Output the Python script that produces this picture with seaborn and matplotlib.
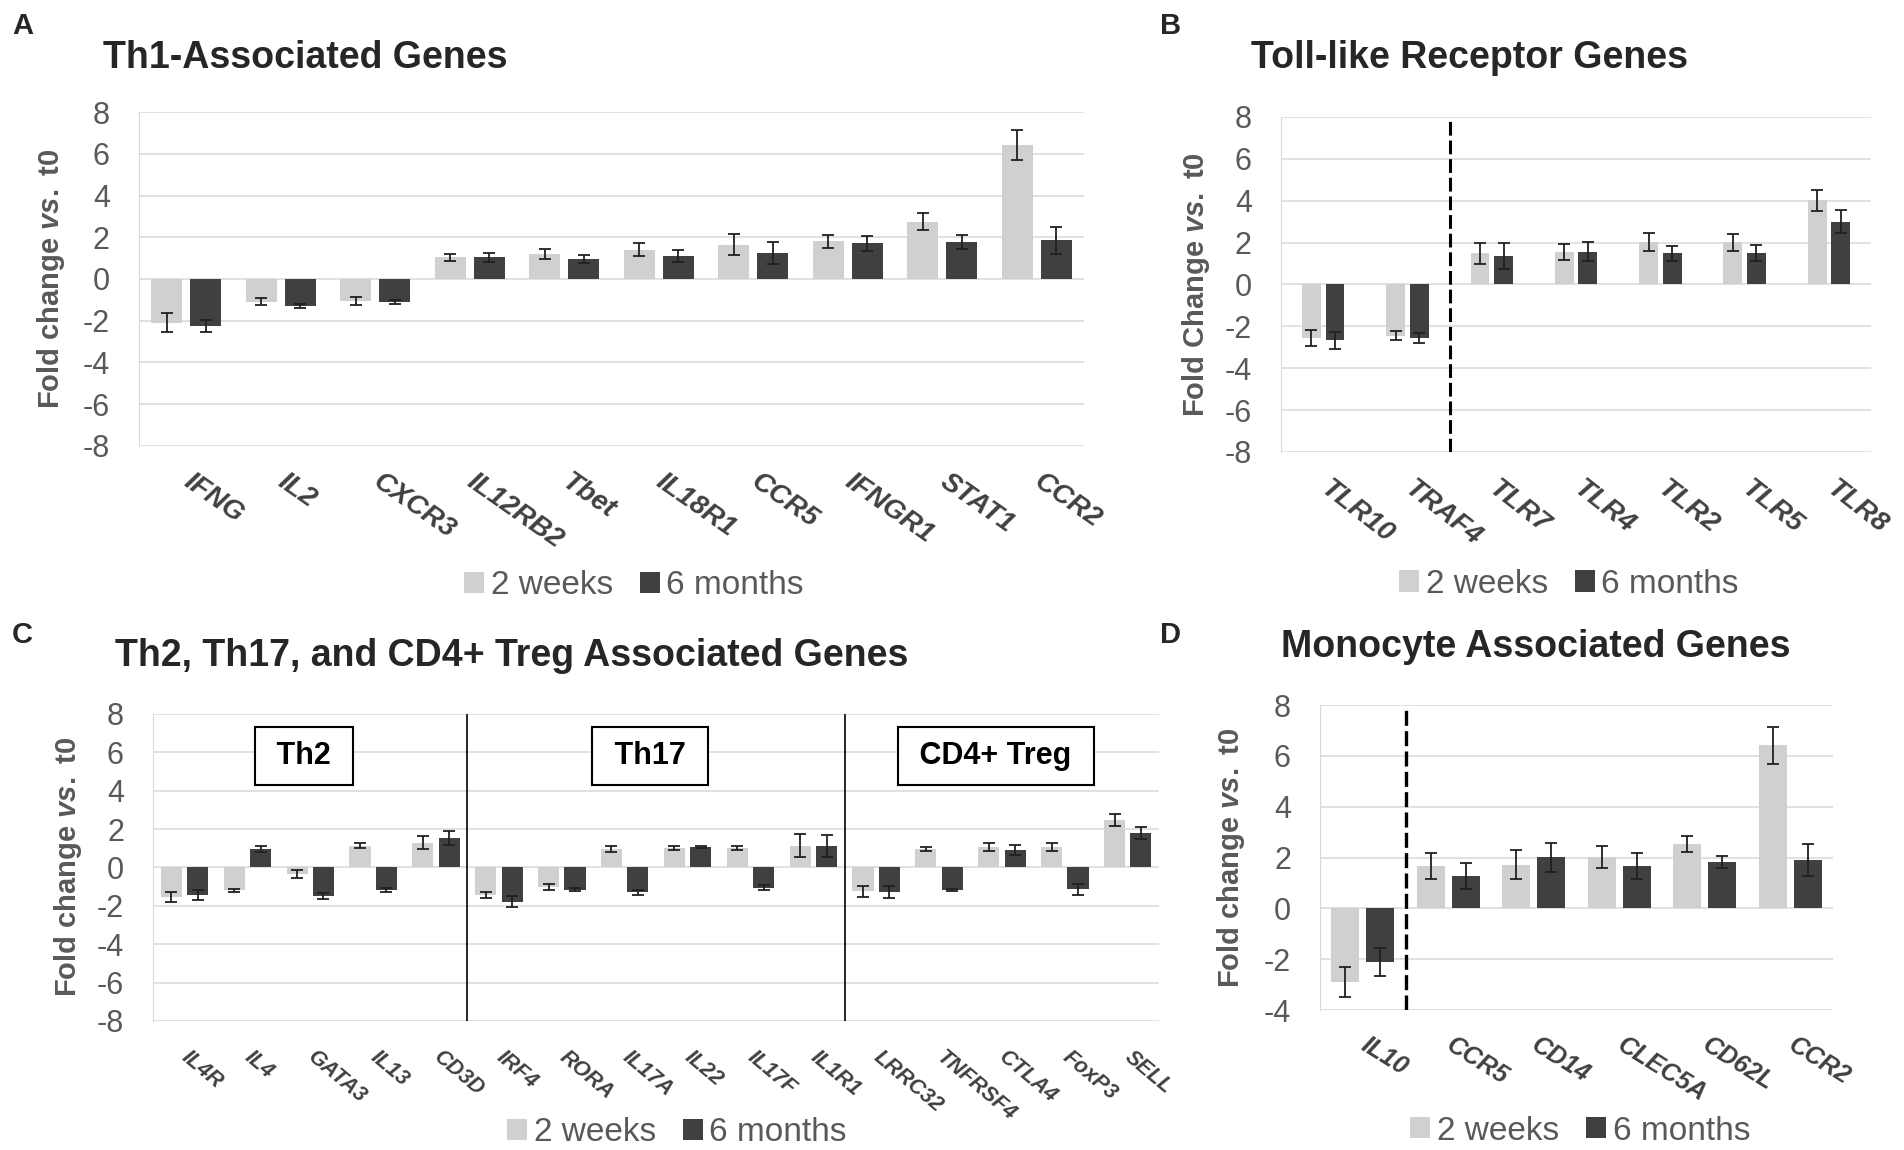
import matplotlib
matplotlib.use("Agg")
import numpy as np
import pandas as pd
import matplotlib.pyplot as plt
import seaborn as sns

# ---- data ----
# A: Th1-associated genes
th1_genes = ["IFNG", "IL2", "CXCR3", "IL12RB2", "Tbet", "IL18R1", "CCR5", "IFNGR1", "STAT1", "CCR2"]
th1_2w = [-2.10, -1.10, -1.04, 1.03, 1.21, 1.41, 1.65, 1.81, 2.75, 6.43]
th1_6m = [-2.25, -1.28, -1.12, 1.03, 0.95, 1.10, 1.26, 1.72, 1.77, 1.85]
th1_2w_err = [0.45, 0.17, 0.20, 0.16, 0.23, 0.30, 0.50, 0.32, 0.40, 0.73]
th1_6m_err = [0.27, 0.10, 0.10, 0.20, 0.20, 0.27, 0.52, 0.36, 0.35, 0.65]

# B: Toll-like receptor genes
tlr_genes = ["TLR10", "TRAF4", "TLR7", "TLR4", "TLR2", "TLR5", "TLR8"]
tlr_2w = [-2.56, -2.44, 1.50, 1.56, 2.01, 2.01, 4.03]
tlr_6m = [-2.66, -2.56, 1.36, 1.56, 1.50, 1.50, 3.00]
tlr_2w_err = [0.37, 0.23, 0.50, 0.37, 0.43, 0.40, 0.50]
tlr_6m_err = [0.40, 0.23, 0.60, 0.46, 0.36, 0.40, 0.55]
tlr_down = 2  # genes left of the dashed line

# C: Th2, Th17, CD4+ Treg
th2_genes = ["IL4R", "IL4", "GATA3", "IL13", "CD3D"]
th17_genes = ["IRF4", "RORA", "IL17A", "IL22", "IL17F", "IL1R1"]
treg_genes = ["LRRC32", "TNFRSF4", "CTLA4", "FoxP3", "SELL"]
group_names = ["Th2", "Th17", "CD4+ Treg"]
c_2w = [-1.53, -1.20, -0.33, 1.14, 1.29,
        -1.43, -1.02, 0.96, 1.01, 1.01, 1.14,
        -1.25, 0.96, 1.07, 1.07, 2.48]
c_6m = [-1.43, 0.96, -1.47, -1.16, 1.53,
        -1.78, -1.15, -1.29, 1.07, -1.05, 1.14,
        -1.29, -1.16, 0.92, -1.14, 1.80]
c_2w_err = [0.27, 0.10, 0.22, 0.11, 0.34,
            0.17, 0.14, 0.15, 0.11, 0.11, 0.60,
            0.30, 0.10, 0.22, 0.20, 0.31]
c_6m_err = [0.25, 0.15, 0.15, 0.10, 0.35,
            0.30, 0.10, 0.13, 0.05, 0.12, 0.57,
            0.30, 0.05, 0.25, 0.28, 0.30]

# D: monocyte associated genes
mono_genes = ["IL10", "CCR5", "CD14", "CLEC5A", "CD62L", "CCR2"]
mono_2w = [-2.90, 1.66, 1.71, 2.01, 2.54, 6.41]
mono_6m = [-2.10, 1.27, 2.01, 1.66, 1.83, 1.90]
mono_2w_err = [0.59, 0.52, 0.57, 0.43, 0.31, 0.72]
mono_6m_err = [0.55, 0.50, 0.57, 0.50, 0.24, 0.62]
mono_down = 1

timepoints = ["2 weeks", "6 months"]
colors = ["#D0D0D0", "#404040"]

sns.set_style("white")
plt.rcParams["font.family"] = ["Liberation Sans", "DejaVu Sans"]
plt.rcParams["axes.unicode_minus"] = False
plt.rcParams["mathtext.fontset"] = "custom"
plt.rcParams["mathtext.it"] = "Liberation Sans:italic:bold"
plt.rcParams["mathtext.rm"] = "Liberation Sans:bold"

GRAY = "#595959"

fig = plt.figure(figsize=(19.04, 11.5), dpi=100)


def panel(rect, genes, v2w, v6m, e2w, e6m, ylim, ylabel, width, rot, xfs, ylab_x):
    ax = fig.add_axes(rect)
    df = pd.DataFrame({
        "gene": list(genes) * 2,
        "time": [timepoints[0]] * len(genes) + [timepoints[1]] * len(genes),
        "fc": list(v2w) + list(v6m),
    })
    sns.barplot(data=df, x="gene", y="fc", hue="time", order=genes, hue_order=timepoints,
                palette=colors, saturation=1, width=width, gap=0.2, errorbar=None,
                linewidth=0, ax=ax)
    for cont, vals, errs in zip(ax.containers, [v2w, v6m], [e2w, e6m]):
        xs = [b.get_x() + b.get_width() / 2 for b in cont]
        ax.errorbar(xs, vals, yerr=errs, fmt="none", ecolor="#202020",
                    elinewidth=1.3, capsize=4.5, capthick=1.3, zorder=4)
    ax.set_xlim(-0.5, len(genes) - 0.5)
    ax.set_ylim(*ylim)
    ax.set_yticks(np.arange(ylim[0], ylim[1] + 1, 2))
    ax.set_axisbelow(True)
    ax.grid(axis="y", color="#D9D9D9", lw=1.1)
    ax.grid(axis="x", visible=False)
    for s in ["top", "right", "bottom"]:
        ax.spines[s].set_visible(False)
    ax.spines["left"].set_color("#D9D9D9")
    ax.tick_params(axis="y", length=0, pad=21, labelsize=22, labelcolor=GRAY)
    ax.tick_params(axis="x", length=0, pad=24, labelsize=xfs, labelcolor="#404040")
    plt.setp(ax.get_xticklabels(), rotation=rot, ha="left", va="center",
             rotation_mode="anchor", style="italic", fontweight="bold")
    ax.set_xlabel("")
    ax.set_ylabel(ylabel, fontsize=21, fontweight="bold", color=GRAY)
    ax.yaxis.set_label_coords(ylab_x, 0.5)
    return ax


axA = panel([0.0730, 0.6122, 0.4963, 0.2904], th1_genes, th1_2w, th1_6m, th1_2w_err, th1_6m_err,
            (-8, 8), r"Fold change $\mathit{vs.}$ t0", 0.82, -35, 20, -0.076)
axB = panel([0.6728, 0.6070, 0.3099, 0.2913], tlr_genes, tlr_2w, tlr_6m, tlr_2w_err, tlr_6m_err,
            (-8, 8), r"Fold Change $\mathit{vs.}$ t0", 0.56, -38, 20, -0.117)
axB.axvline(tlr_down - 0.5, color="black", lw=2.2, dashes=(4.5, 1.6))

c_genes = th2_genes + th17_genes + treg_genes
axC = panel([0.0804, 0.1122, 0.5284, 0.2670], c_genes, c_2w, c_6m, c_2w_err, c_6m_err,
            (-8, 8), r"Fold change $\mathit{vs.}$ t0", 0.84, -40, 15.5, -0.0686)
bounds = np.cumsum([len(th2_genes), len(th17_genes)]) - 0.5
for b in bounds:
    axC.axvline(b, color="black", lw=1.2)
edges = np.concatenate([[-0.5], bounds, [len(c_genes) - 0.5]])
for name, lo, hi in zip(group_names, edges[:-1], edges[1:]):
    axC.text((lo + hi) / 2 - 0.1, 5.8, f" {name} ", ha="center", va="center", fontsize=22,
             fontweight="bold", color="black",
             bbox=dict(boxstyle="square,pad=0.45", fc="white", ec="black", lw=1.5))

axD = panel([0.6933, 0.1217, 0.2694, 0.2652], mono_genes, mono_2w, mono_6m, mono_2w_err, mono_6m_err,
            (-4, 8), r"Fold change $\mathit{vs.}$ t0", 0.82, -32, 18, -0.142)
axD.axvline(mono_down - 0.5, color="black", lw=2.4, dashes=(4.5, 1.6))

# legends
for ax, (cx, cy) in zip([axA, axB, axC, axD],
                        [(0.333, 0.491), (0.824, 0.492), (0.3556, 0.0148), (0.830, 0.0165)]):
    sns.move_legend(ax, "center", bbox_to_anchor=(cx, cy), bbox_transform=fig.transFigure,
                    ncol=2, frameon=False, title=None, fontsize=24, labelcolor=GRAY,
                    handlelength=0.6, handleheight=0.6, handletextpad=0.2, columnspacing=0.8)

# titles and panel letters
fig.text(0.0541, 0.950, "Th1-Associated Genes", fontsize=27, fontweight="bold", va="center")
fig.text(0.657, 0.950, "Toll-like Receptor Genes", fontsize=27, fontweight="bold", va="center")
fig.text(0.0604, 0.4296, "Th2, Th17, and CD4+ Treg Associated Genes", fontsize=27,
         fontweight="bold", va="center")
fig.text(0.6728, 0.4374, "Monocyte Associated Genes", fontsize=27, fontweight="bold", va="center")
for letter, x, y in [("A", 0.0063, 0.977), ("B", 0.609, 0.977), ("C", 0.006, 0.448), ("D", 0.609, 0.448)]:
    fig.text(x, y, letter, fontsize=21, fontweight="bold", va="center")

fig.savefig("out.png", dpi=100)
